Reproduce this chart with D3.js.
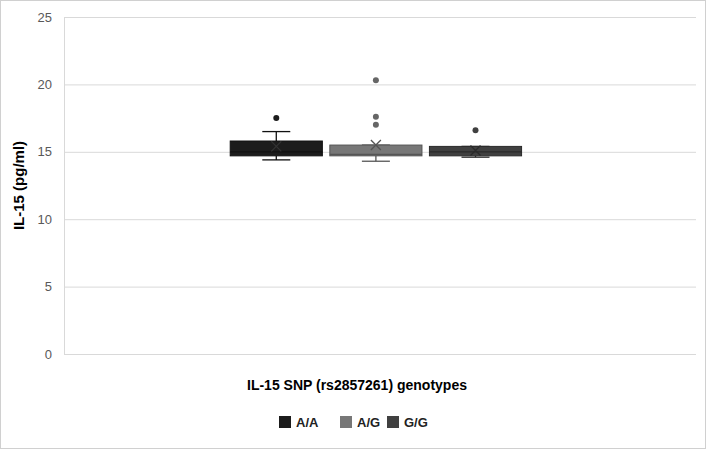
<!DOCTYPE html>
<html>
<head>
<meta charset="utf-8">
<script src="https://cdn.jsdelivr.net/npm/d3@7"></script>
<style>
  body { margin: 0; background: #fff; }
  svg { font-family: "Liberation Sans", Arial, sans-serif; }
</style>
</head>
<body>
<div id="chart"></div>
<script>
const genotypes = ['A/A', 'A/G', 'G/G'];
const colors = ['#1c1c1c', '#777777', '#404040'];
const strokes = ['#111111', '#555555', '#2a2a2a'];
const whiskerLow = [14.4, 14.3, 14.6];
const q1 = [14.7, 14.7, 14.7];
const median = [15.0, 14.8, 15.0];
const q3 = [15.8, 15.5, 15.4];
const whiskerHigh = [16.5, 15.5, 15.4];
const means = [15.4, 15.5, 15.1];
const outliers = [[17.5], [20.3, 17.6, 17.0], [16.6]];
const yTicks = [0, 5, 10, 15, 20, 25];

const width = 706, height = 449;
const plot = { left: 64, right: 696, top: 17, bottom: 354 };

const svg = d3.select('#chart').append('svg')
    .attr('width', width)
    .attr('height', height);

// chart border
svg.append('rect')
    .attr('x', 0.5).attr('y', 0.5)
    .attr('width', width - 1).attr('height', height - 1)
    .attr('fill', '#fff')
    .attr('stroke', '#d0d0d0');

const y = d3.scaleLinear().domain([0, 25]).range([plot.bottom, plot.top]);
const plotW = plot.right - plot.left;
const x = d3.scaleBand()
    .domain(genotypes)
    .range([plot.left + plotW * 0.263, plot.right - plotW * 0.276])
    .paddingInner(0.075);

// grid
svg.append('g')
    .selectAll('line')
    .data(yTicks)
    .join('line')
    .attr('x1', plot.left).attr('x2', plot.right)
    .attr('y1', d => y(d) + 0.5).attr('y2', d => y(d) + 0.5)
    .attr('stroke', '#d9d9d9')
    .attr('stroke-width', 1);

svg.append('line')
    .attr('x1', plot.left + 0.5).attr('x2', plot.left + 0.5)
    .attr('y1', plot.top).attr('y2', plot.bottom)
    .attr('stroke', '#d9d9d9');

// y tick labels
svg.append('g')
    .selectAll('text')
    .data(yTicks)
    .join('text')
    .attr('x', plot.left - 12)
    .attr('y', d => y(d))
    .attr('dy', '0.35em')
    .attr('text-anchor', 'end')
    .attr('fill', '#595959')
    .style('font-size', '13px')
    .text(d => d);

// boxes
const g = svg.append('g')
    .selectAll('g')
    .data(genotypes)
    .join('g');

g.each(function(d, i) {
  const sel = d3.select(this);
  const x0 = x(d), bw = x.bandwidth(), cx = x0 + bw / 2;
  const capW = 28;
  // whiskers
  sel.append('line')
      .attr('x1', cx).attr('x2', cx)
      .attr('y1', y(whiskerHigh[i])).attr('y2', y(q3[i]))
      .attr('stroke', strokes[i]).attr('stroke-width', 1.3);
  sel.append('line')
      .attr('x1', cx).attr('x2', cx)
      .attr('y1', y(q1[i])).attr('y2', y(whiskerLow[i]))
      .attr('stroke', strokes[i]).attr('stroke-width', 1.3);
  [whiskerHigh[i], whiskerLow[i]].forEach(v => {
    sel.append('line')
        .attr('x1', cx - capW / 2).attr('x2', cx + capW / 2)
        .attr('y1', y(v)).attr('y2', y(v))
        .attr('stroke', strokes[i]).attr('stroke-width', 1.3);
  });
  // box
  sel.append('rect')
      .attr('x', x0).attr('width', bw)
      .attr('y', y(q3[i]))
      .attr('height', y(q1[i]) - y(q3[i]))
      .attr('fill', colors[i])
      .attr('stroke', strokes[i])
      .attr('stroke-width', 1);
  // median
  sel.append('line')
      .attr('x1', x0).attr('x2', x0 + bw)
      .attr('y1', y(median[i])).attr('y2', y(median[i]))
      .attr('stroke', strokes[i]).attr('stroke-width', 1.3);
  // mean marker
  const m = 5, my = y(means[i]);
  sel.append('path')
      .attr('d', `M${cx - m},${my - m}L${cx + m},${my + m}M${cx - m},${my + m}L${cx + m},${my - m}`)
      .attr('stroke', i === 0 ? '#333' : strokes[i])
      .attr('stroke-width', 1.3)
      .attr('fill', 'none');
  // outliers
  sel.selectAll('circle')
      .data(outliers[i])
      .join('circle')
      .attr('cx', cx)
      .attr('cy', v => y(v))
      .attr('r', 3)
      .attr('fill', i === 1 ? '#666' : colors[i]);
});

// axis titles
svg.append('text')
    .attr('transform', `translate(24,${(plot.top + plot.bottom) / 2}) rotate(-90)`)
    .attr('text-anchor', 'middle')
    .style('font-size', '15px')
    .style('font-weight', 'bold')
    .attr('fill', '#000')
    .text('IL-15 (pg/ml)');

svg.append('text')
    .attr('x', 357)
    .attr('y', 390)
    .attr('text-anchor', 'middle')
    .style('font-size', '14px')
    .style('font-weight', 'bold')
    .attr('fill', '#000')
    .text('IL-15 SNP (rs2857261) genotypes');

// legend
const legendX = [279, 340, 387];
const legend = svg.append('g')
    .selectAll('g')
    .data(genotypes)
    .join('g')
    .attr('transform', (d, i) => `translate(${legendX[i]},416)`);
legend.append('rect')
    .attr('width', 12).attr('height', 12)
    .attr('fill', (d, i) => colors[i]);
legend.append('text')
    .attr('x', 17).attr('y', 6)
    .attr('dy', '0.35em')
    .style('font-size', '13px')
    .style('font-weight', 'bold')
    .attr('fill', '#222')
    .text(d => d);
</script>
</body>
</html>
